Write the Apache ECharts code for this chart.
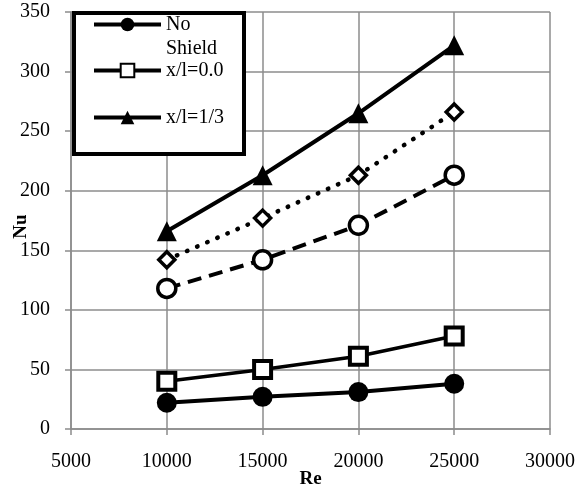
<!DOCTYPE html>
<html>
<head>
<meta charset="utf-8">
<script src="https://cdn.jsdelivr.net/npm/echarts@6/dist/echarts.min.js"></script>
<style>html,body{margin:0;padding:0;background:#fff}#c{width:587px;height:486px}</style>
</head>
<body>
<div id="c"></div>
<script>
var reValues = [10000, 15000, 20000, 25000];
var noShield = [22, 27, 31, 38];
var xl00 = [40, 50, 61, 78];
var xl13 = [166, 213, 265, 322];
var diamondSeries = [142, 177, 213, 266];
var circleSeries = [118, 142, 171, 213];
var xTicks = [5000, 10000, 15000, 20000, 25000, 30000];
var yTicks = [0, 50, 100, 150, 200, 250, 300, 350];

function pts(ys) { return reValues.map(function (x, i) { return [x, ys[i]]; }); }

var FONT = 'Liberation Serif';
var GRID = '#8c8c8c';
var chart = echarts.init(document.getElementById('c'));

function legendCfg(name, top) {
  return {
    data: [name],
    left: 92,
    top: top,
    padding: 0,
    itemWidth: 67,
    itemHeight: 17,
    itemGap: 0,
    selectedMode: false,
    lineStyle: { width: 4 },
    formatter: function (n) { return n === 'No Shield' ? ' \nNo\nShield' : n; },
    textStyle: { fontFamily: FONT, fontSize: 20, color: '#000', lineHeight: 24 }
  };
}

chart.setOption({
  animation: false,
  backgroundColor: '#fff',
  grid: { left: 71, right: 37, top: 12, bottom: 57, outerBoundsMode: 'none', containLabel: false },
  graphic: [{
    type: 'rect', z: 3, left: 72, top: 11,
    shape: { width: 170, height: 141 },
    style: { fill: '#fff', stroke: '#000', lineWidth: 4 }
  }],
  legend: [
    legendCfg('No Shield', -11.5),
    legendCfg('x/l=0.0', 58.5),
    legendCfg('x/l=1/3', 105.5)
  ],
  xAxis: {
    type: 'value', min: xTicks[0], max: xTicks[xTicks.length - 1], interval: 5000,
    name: 'Re', nameLocation: 'middle', nameGap: 41, nameMoveOverlap: false,
    nameTextStyle: { fontFamily: FONT, fontSize: 19, fontWeight: 'bold', color: '#000' },
    axisLine: { lineStyle: { color: GRID, width: 1.5 } },
    axisTick: { show: true, length: 6, lineStyle: { color: GRID, width: 1.5 } },
    axisLabel: { fontFamily: FONT, fontSize: 20, color: '#000', margin: 23,
      formatter: function (v) { return String(v); } },
    splitLine: { show: true, lineStyle: { color: GRID, width: 1.5 } }
  },
  yAxis: {
    type: 'value', min: yTicks[0], max: yTicks[yTicks.length - 1], interval: 50,
    name: 'Nu', nameLocation: 'middle', nameGap: 40, nameRotate: 90, nameMoveOverlap: false,
    nameTextStyle: { fontFamily: FONT, fontSize: 19, fontWeight: 'bold', color: '#000', padding: [0, 12, 0, 0] },
    axisLine: { show: true, lineStyle: { color: GRID, width: 1.5 } },
    axisTick: { show: true, length: 6, lineStyle: { color: GRID, width: 1.5 } },
    axisLabel: { fontFamily: FONT, fontSize: 20, color: '#000', margin: 21,
      formatter: function (v) { return String(v); } },
    splitLine: { show: true, lineStyle: { color: GRID, width: 1.5 } }
  },
  series: [
    { name: 'No Shield', type: 'line', data: pts(noShield), symbol: 'circle', symbolSize: 20,
      itemStyle: { color: '#000' }, lineStyle: { color: '#000', width: 4 }, z: 5 },
    { name: 'x/l=0.0', type: 'line', data: pts(xl00), symbol: 'rect', symbolSize: 17,
      itemStyle: { color: '#fff', borderColor: '#000', borderWidth: 4 }, lineStyle: { color: '#000', width: 3.5 }, z: 5 },
    { name: 'x/l=1/3', type: 'line', data: pts(xl13), symbol: 'triangle', symbolSize: 20,
      itemStyle: { color: '#000' }, lineStyle: { color: '#000', width: 4 }, z: 5 },
    { name: 'diamond', type: 'line', data: pts(diamondSeries), symbol: 'diamond', symbolSize: 16,
      itemStyle: { color: '#fff', borderColor: '#000', borderWidth: 3.5 },
      lineStyle: { color: '#000', width: 4.5, type: [0.5, 10.5], cap: 'round' }, z: 5 },
    { name: 'circles', type: 'line', data: pts(circleSeries), symbol: 'circle', symbolSize: 18,
      itemStyle: { color: '#fff', borderColor: '#000', borderWidth: 3.5 },
      lineStyle: { color: '#000', width: 4, type: [14, 8] }, z: 5 }
  ]
});
</script>
</body>
</html>
